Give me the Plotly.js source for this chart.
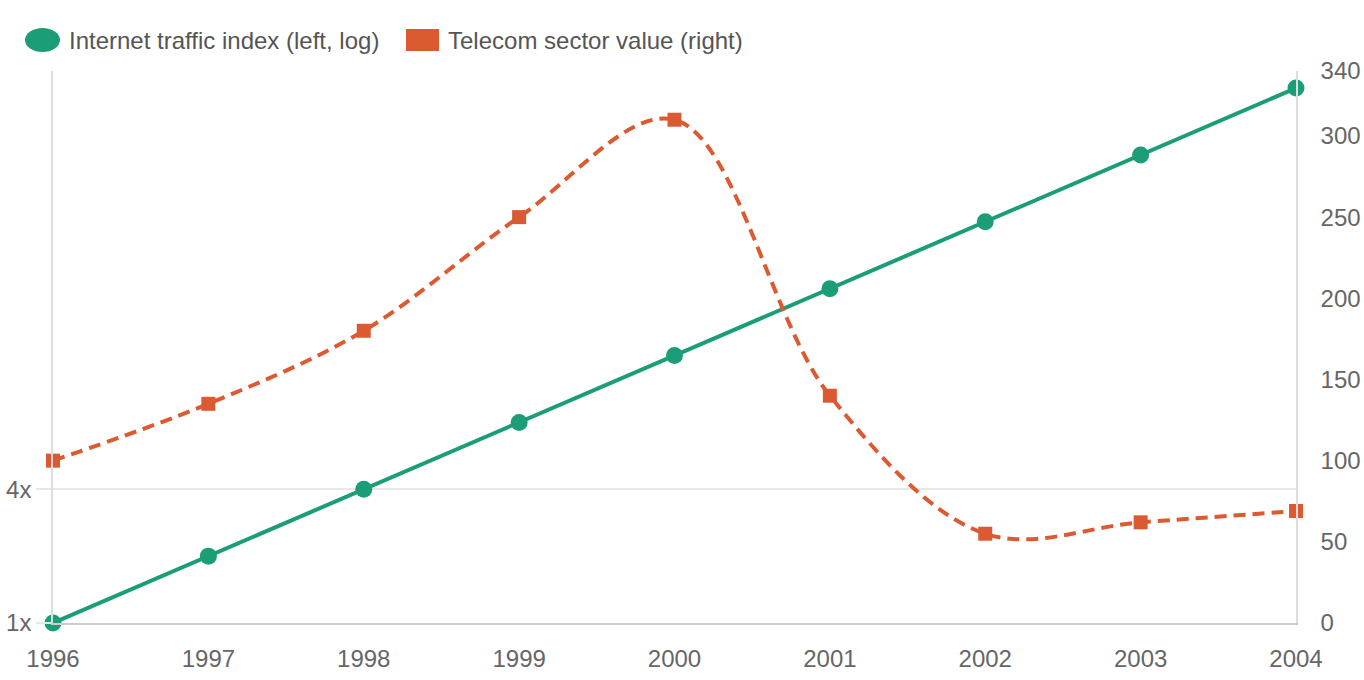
<!DOCTYPE html>
<html>
<head>
<meta charset="utf-8">
<script src="https://cdn.plot.ly/plotly-3.0.1.min.js"></script>
<style>
  html, body { margin: 0; padding: 0; background: #ffffff; }
  #chart { width: 1364px; height: 680px; }
</style>
</head>
<body>
<div id="chart"></div>
<script>
// data
var years = ["1996", "1997", "1998", "1999", "2000", "2001", "2002", "2003", "2004"];
var trafficIndex = [1, 2, 4, 8, 16, 32, 64, 128, 256];
var telecomValue = [100, 135, 180, 250, 310, 140, 55, 62, 69];
var seriesNames = ["Internet traffic index (left, log)", "Telecom sector value (right)"];
var leftTickVals = [1, 4];
var leftTickText = ["1x", "4x"];
var rightTickVals = [0, 50, 100, 150, 200, 250, 300, 340];

var green = "#1b9e77";
var orange = "#db5a31";
var tickFont = { family: "Liberation Sans, Arial, Helvetica, sans-serif", size: 24, color: "#666666" };

var traffic = {
  type: "scatter",
  mode: "lines+markers",
  name: seriesNames[0],
  x: years,
  y: trafficIndex,
  yaxis: "y",
  cliponaxis: false,
  line: { color: green, width: 4 },
  marker: { color: green, size: 17, symbol: "circle" },
  showlegend: false,
  hoverinfo: "x+y"
};

var telecom = {
  type: "scatter",
  mode: "lines+markers",
  name: seriesNames[1],
  x: years,
  y: telecomValue,
  yaxis: "y2",
  cliponaxis: false,
  line: { color: orange, width: 4, dash: "12px,7px", shape: "spline", smoothing: 1 },
  marker: { color: orange, size: 14, symbol: "square" },
  showlegend: false,
  hoverinfo: "x+y"
};

// plot area is 53..1296 px wide, 71..623 px high
var plotL = 53, plotR = 1296, plotT = 71, plotB = 623;
function px(x) { return (x - plotL) / (plotR - plotL); }
function py(y) { return (plotB - y) / (plotB - plotT); }

var layout = {
  width: 1364,
  height: 680,
  margin: { l: plotL, r: 1364 - plotR, t: plotT, b: 680 - plotB },
  paper_bgcolor: "#ffffff",
  plot_bgcolor: "#ffffff",
  font: tickFont,
  showlegend: false,
  xaxis: {
    type: "category",
    range: [0, years.length - 1],
    showgrid: false,
    zeroline: false,
    showline: true,
    linecolor: "#cccccc",
    linewidth: 1.5,
    ticks: "",
    ticklabelstandoff: 13,
    tickfont: tickFont,
    fixedrange: true
  },
  yaxis: {
    type: "log",
    range: [0, 2.485],
    tickvals: leftTickVals,
    ticktext: leftTickText,
    showgrid: true,
    gridcolor: "#e8e8e8",
    gridwidth: 1.5,
    zeroline: false,
    showline: true,
    linecolor: "#dddddd",
    linewidth: 1.5,
    ticks: "outside",
    ticklen: 15,
    tickcolor: "#e6e6e6",
    tickwidth: 1.5,
    ticklabelstandoff: 0,
    tickfont: tickFont,
    fixedrange: true
  },
  yaxis2: {
    overlaying: "y",
    side: "right",
    range: [0, 340],
    tickvals: rightTickVals,
    showgrid: false,
    zeroline: false,
    showline: true,
    linecolor: "#dddddd",
    linewidth: 1.5,
    ticks: "",
    ticklabelstandoff: 18,
    tickfont: tickFont,
    fixedrange: true
  },
  // legend drawn by hand so the icons can match the reference size
  shapes: [
    { type: "circle", xref: "paper", yref: "paper",
      x0: px(25), x1: px(60), y0: py(52), y1: py(28),
      fillcolor: green, line: { width: 0 } },
    { type: "rect", xref: "paper", yref: "paper",
      x0: px(406), x1: px(439), y0: py(51), y1: py(29),
      fillcolor: orange, line: { width: 0 } }
  ],
  annotations: [
    { xref: "paper", yref: "paper", x: px(67), y: py(40), xanchor: "left", yanchor: "middle",
      text: seriesNames[0], showarrow: false,
      font: { family: tickFont.family, size: 24, color: "#555555" } },
    { xref: "paper", yref: "paper", x: px(446), y: py(40), xanchor: "left", yanchor: "middle",
      text: seriesNames[1], showarrow: false,
      font: { family: tickFont.family, size: 24, color: "#555555" } }
  ]
};

var config = { displayModeBar: false, responsive: false };

Plotly.newPlot("chart", [traffic, telecom], layout, config);
</script>
</body>
</html>
